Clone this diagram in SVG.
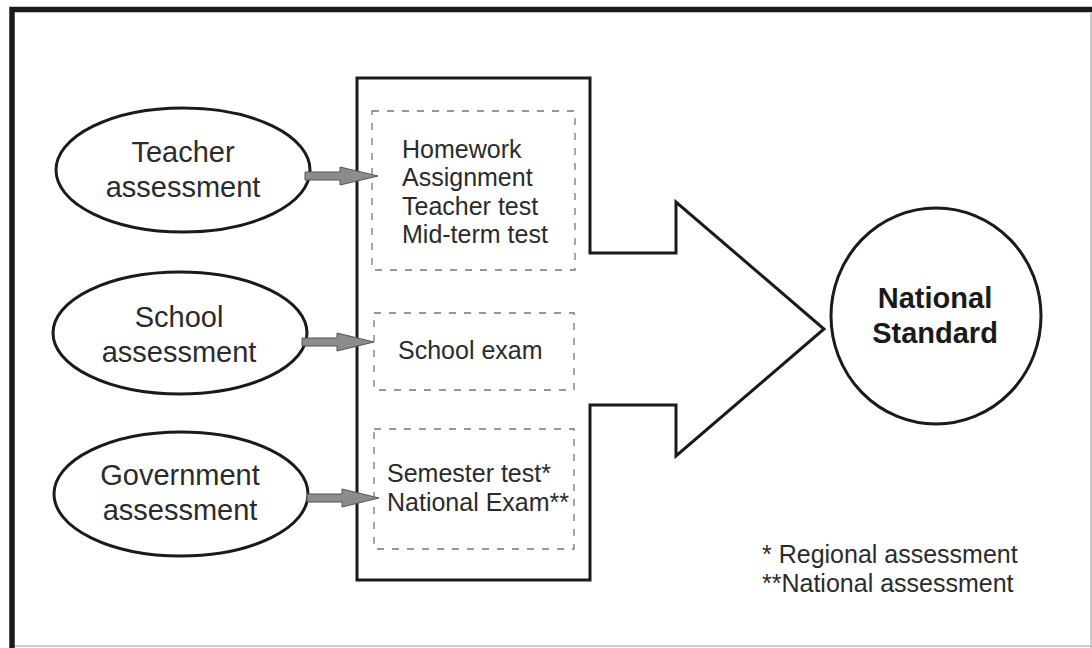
<svg xmlns="http://www.w3.org/2000/svg" width="1092" height="648" viewBox="0 0 1092 648">
<style>
.t{font-family:"Liberation Sans",Arial,sans-serif;fill:#2b2b2b}
.n{font-size:29px}
.s{font-size:25px}
.b{font-size:29px;font-weight:bold;fill:#1a1a1a}
.ol{fill:#fff;stroke:#1a1a1a;stroke-width:3}
.dash{fill:none;stroke:#777;stroke-width:1.3;stroke-dasharray:7 8}
.arr{fill:#8c8c8c;stroke:#555;stroke-width:1}
</style>
<rect x="0" y="0" width="1092" height="648" fill="#fff"/>
<g id="frame">
<path d="M12,648 V9.5 H1092" fill="none" stroke="#1a1a1a" stroke-width="5.5"/>
<line x1="1091" y1="12" x2="1091" y2="648" stroke="#bbb" stroke-width="1.5"/>
<line x1="15" y1="646" x2="1092" y2="646" stroke="#bbb" stroke-width="1.5"/>
</g>
<g id="bigarrow">
<path class="ol" d="M357,78 H590 V253 H676 V202 L824,329 L676,456 V405 H590 V580 H357 Z"/>
</g>
<g id="box-teacher">
<rect class="dash" x="372" y="111" width="203" height="159"/>
<text class="t s" x="402" y="158">Homework</text>
<text class="t s" x="402" y="186">Assignment</text>
<text class="t s" x="402" y="214.5">Teacher test</text>
<text class="t s" x="402" y="243">Mid-term test</text>
</g>
<g id="box-school">
<rect class="dash" x="374" y="313" width="200" height="77"/>
<text class="t s" x="398" y="359">School exam</text>
</g>
<g id="box-government">
<rect class="dash" x="374" y="429" width="200" height="120"/>
<text class="t s" x="387" y="482">Semester test*</text>
<text class="t s" x="387" y="511">National Exam**</text>
</g>
<g id="teacher">
<ellipse class="ol" cx="183" cy="170" rx="127" ry="62"/>
<text class="t n" x="183" y="162" text-anchor="middle">Teacher</text>
<text class="t n" x="183" y="197" text-anchor="middle">assessment</text>
</g>
<g id="school">
<ellipse class="ol" cx="180" cy="333" rx="127" ry="61"/>
<text class="t n" x="179" y="327" text-anchor="middle">School</text>
<text class="t n" x="179" y="362" text-anchor="middle">assessment</text>
</g>
<g id="government">
<ellipse class="ol" cx="181" cy="494" rx="127" ry="62"/>
<text class="t n" x="180" y="485" text-anchor="middle">Government</text>
<text class="t n" x="180" y="520" text-anchor="middle">assessment</text>
</g>
<g id="national">
<ellipse class="ol" cx="936" cy="316" rx="105" ry="108"/>
<text class="t b" x="935" y="308" text-anchor="middle">National</text>
<text class="t b" x="935" y="343" text-anchor="middle">Standard</text>
</g>
<g id="connectors">
<polygon class="arr" points="305,172 340,172 340,167 378,176 340,185 340,180 305,180"/>
<polygon class="arr" points="302,338 337,338 337,333 374,342 337,351 337,346 302,346"/>
<polygon class="arr" points="307,494 342,494 342,489 379,498 342,507 342,502 307,502"/>
</g>
<g id="legend">
<text class="t s" x="762" y="563">* Regional assessment</text>
<text class="t s" x="762" y="592">**National assessment</text>
</g>
</svg>
